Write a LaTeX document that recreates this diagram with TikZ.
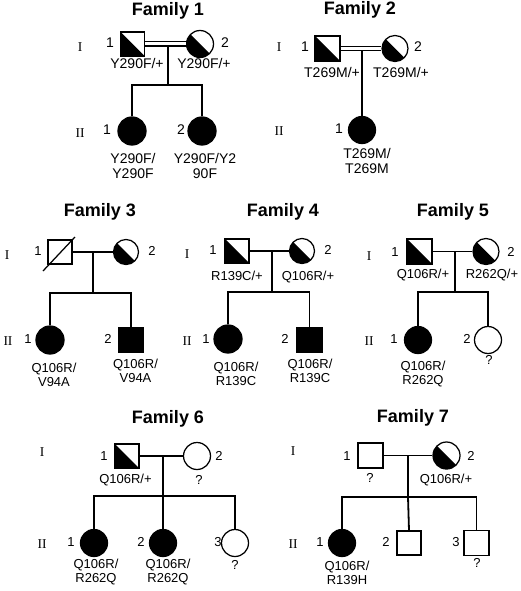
\documentclass[tikz,border=0pt]{standalone}
\usepackage{fontspec}
\setmainfont{Liberation Sans}
\newfontfamily\genfont{Liberation Serif}
\tikzset{
 sym/.style={draw, line width=1.25pt, inner sep=0pt, fill=white},
 sq/.style={sym, rectangle, minimum size=24pt},
 ci/.style={sym, circle, minimum size=27pt},
 aff/.style={fill=black},
 half/.style={path picture={\fill[black] (path picture bounding box.north west) -- (path picture bounding box.south west) -- (path picture bounding box.south east) -- cycle;}},
 ln/.style={line width=1.8pt},
 dbl/.style={line width=1.3pt, double, double distance=3pt},
 ttl/.style={font=\fontsize{18}{20}\selectfont\bfseries, inner sep=0pt, text height=0.72em, text depth=0pt},
 gen/.style={font=\genfont\fontsize{13.5}{15}\selectfont, inner sep=0pt, text height=0.66em, text depth=0pt},
 numA/.style={font=\fontsize{14}{16}\selectfont, inner sep=0pt, text height=0.72em, text depth=0pt},
 numB/.style={font=\fontsize{13}{14}\selectfont, inner sep=0pt, text height=0.72em, text depth=0pt},
 gtA/.style={font=\fontsize{14}{15}\selectfont, align=center, anchor=north, inner sep=0pt},
 gtB/.style={font=\fontsize{13}{14}\selectfont, align=center, anchor=north, inner sep=0pt},
}
\begin{document}
\begin{tikzpicture}[x=1pt, y=-1pt]
\useasboundingbox[fill=white] (0,0) rectangle (520,591);

% ---------------- Family 1
\node[ttl] (t1) at (168,12) {Family 1};
\node[gen] (g1a) at (80,48) {I};
\node[gen] (g1b) at (80,134) {II};
\node[sq,half] (f1a) at (132.5,44) {};
\node[ci,half] (f1b) at (200,44) {};
\node[ci,aff,minimum size=28pt] (f1c) at (132,131) {};
\node[ci,aff,minimum size=28pt] (f1d) at (202,131) {};
\coordinate (f1m) at (168,46);
\coordinate (f1s) at (168,85);
\draw[dbl] (f1a) -- (f1b);
\draw[ln] (f1m) -- (f1s);
\draw[ln] (f1c.north) |- (f1s) -| (f1d.north);
\node[numA] (n1a) at (110,44) {1};
\node[numA] (n1b) at (225,44) {2};
\node[numA] (n1c) at (107,131) {1};
\node[numA] (n1d) at (181,131) {2};
\node[gtA] (l1a) at (137,58) {Y290F/+};
\node[gtA] (l1b) at (204,58) {Y290F/+};
\node[gtA] (l1c) at (133,153) {Y290F/\\Y290F};
\node[gtA] (l1d) at (205,153) {Y290F/Y2\\90F};

% ---------------- Family 2
\node[ttl] (t2) at (360,11) {Family 2};
\node[gen] (g2a) at (279,48) {I};
\node[gen] (g2b) at (279,132) {II};
\node[sq,half,minimum size=25pt] (f2a) at (327.5,48.5) {};
\node[ci,half,minimum size=26pt] (f2b) at (395,48.5) {};
\node[ci,aff] (f2c) at (362,130) {};
\coordinate (f2m) at (362,50.5);
\draw[dbl] (f2a) -- (f2b);
\draw[ln] (f2m) -- (f2c.north);
\node[numA] (n2a) at (305,48) {1};
\node[numA] (n2b) at (418,48) {2};
\node[numA] (n2c) at (339,130) {1};
\node[gtA] (l2a) at (332,67) {T269M/+};
\node[gtA] (l2b) at (401,67) {T269M/+};
\node[gtA] (l2c) at (367,148) {T269M/\\T269M};

% ---------------- Family 3
\node[ttl] (t3) at (100,213) {Family 3};
\node[gen] (g3a) at (7,256) {I};
\node[gen] (g3b) at (8,342) {II};
\node[sq] (f3a) at (60,252) {};
\node[ci,half,minimum size=25pt] (f3b) at (126,252) {};
\node[ci,aff,minimum size=28pt] (f3c) at (50,340) {};
\node[sq,aff] (f3d) at (131,340) {};
\draw[line width=1.25pt] ([shift={(-17,19)}]f3a.center) -- ([shift={(15,-15)}]f3a.center);
\coordinate (f3m) at (93,252);
\coordinate (f3s) at (93,293);
\draw[ln] (f3a) -- (f3b);
\draw[ln] (f3m) -- (f3s);
\draw[ln] (f3c.north) |- (f3s) -| (f3d.north);
\node[numB] (n3a) at (38,252) {1};
\node[numB] (n3b) at (152,252) {2};
\node[numB] (n3c) at (28,340) {1};
\node[numB] (n3d) at (108,340) {2};
\node[gtB] (l3c) at (54,362.5) {Q106R/\\V94A};
\node[gtB] (l3d) at (135.5,358.5) {Q106R/\\V94A};

% ---------------- Family 4
\node[ttl] (t4) at (283,213) {Family 4};
\node[gen] (g4a) at (187,255) {I};
\node[gen] (g4b) at (187,342) {II};
\node[sq,half] (f4a) at (237,251) {};
\node[ci,half,minimum size=25pt] (f4b) at (302,251) {};
\node[ci,aff,minimum size=28pt] (f4c) at (228,339) {};
\node[sq,aff,minimum size=25pt] (f4d) at (309.5,340) {};
\coordinate (f4m) at (272,251);
\coordinate (f4s) at (272,292);
\draw[ln] (f4a) -- (f4b);
\draw[ln] (f4m) -- (f4s);
\draw[ln] (f4c.north) |- (f4s) -| (f4d.north);
\node[numB] (n4a) at (213,251) {1};
\node[numB] (n4b) at (328,251) {2};
\node[numB] (n4c) at (206,340) {1};
\node[numB] (n4d) at (285,340) {2};
\node[gtB] (l4a) at (237,270.5) {R139C/+};
\node[gtB] (l4b) at (308,270.5) {Q106R/+};
\node[gtB] (l4c) at (236,361.5) {Q106R/\\R139C};
\node[gtB] (l4d) at (310,358.5) {Q106R/\\R139C};

% ---------------- Family 5
\node[ttl] (t5) at (453,213) {Family 5};
\node[gen] (g5a) at (369,257) {I};
\node[gen] (g5b) at (369,342) {II};
\node[sq,half,minimum size=25pt] (f5a) at (419.5,251.5) {};
\node[ci,half,minimum size=26pt] (f5b) at (486,251.5) {};
\node[ci,aff] (f5c) at (418,340) {};
\node[ci] (f5d) at (488,340) {};
\coordinate (f5m) at (455,251.5);
\coordinate (f5s) at (455,292);
\draw[ln] (f5a) -- (f5b);
\draw[ln] (f5m) -- (f5s);
\draw[ln] (f5c.north) |- (f5s) -| (f5d.north);
\node[numB] (n5a) at (395,253) {1};
\node[numB] (n5b) at (511,253) {2};
\node[numB] (n5c) at (394,340) {1};
\node[numB] (n5d) at (467,340) {2};
\node[gtB] (l5a) at (423,268.5) {Q106R/+};
\node[gtB] (l5b) at (492,268.5) {R262Q/+};
\node[gtB] (l5c) at (423,360.5) {Q106R/\\R262Q};
\node[gtB] (l5d) at (489,355.5) {?};

% ---------------- Family 6
\node[ttl] (t6) at (168,420) {Family 6};
\node[gen] (g6a) at (42,453) {I};
\node[gen] (g6b) at (42,545) {II};
\node[sq,half] (f6a) at (127,456) {};
\node[ci] (f6b) at (197,456) {};
\node[ci,aff] (f6c) at (94,543) {};
\node[ci,aff] (f6d) at (163,543) {};
\node[ci] (f6e) at (235,543) {};
\coordinate (f6m) at (163,456);
\coordinate (f6s) at (163,496);
\draw[ln] (f6a) -- (f6b);
\draw[ln] (f6m) -- (f6s);
\draw[ln] (f6c.north) |- (f6s) -| (f6e.north);
\draw[ln] (f6s) -- (f6d.north);
\node[numB] (n6a) at (104,457) {1};
\node[numB] (n6b) at (219,457) {2};
\node[numB] (n6c) at (71,543) {1};
\node[numB] (n6d) at (141,543) {2};
\node[numB] (n6e) at (218,543) {3};
\node[gtB] (l6a) at (125.5,473.5) {Q106R/+};
\node[gtB] (l6b) at (199,475.5) {?};
\node[gtB] (l6c) at (96,558.5) {Q106R/\\R262Q};
\node[gtB] (l6d) at (168,558.5) {Q106R/\\R262Q};
\node[gtB] (l6e) at (235,560.5) {?};

% ---------------- Family 7
\node[ttl] (t7) at (413,419) {Family 7};
\node[gen] (g7a) at (293,452) {I};
\node[gen] (g7b) at (293,545) {II};
\node[sq,minimum size=25pt] (f7a) at (370.5,455.5) {};
\node[ci,half] (f7b) at (446.5,455.5) {};
\node[ci,aff] (f7c) at (342,543) {};
\node[sq] (f7d) at (409,543) {};
\node[sq,minimum size=25pt] (f7e) at (476.5,543) {};
\coordinate (f7m) at (408,455.5);
\coordinate (f7s) at (408,497);
\draw[ln] (f7a) -- (f7b);
\draw[ln] (f7m) -- (f7s);
\draw[ln] (f7c.north) |- (f7s) -| (f7e.north);
\draw[ln] (f7s) -- (f7d.north);
\node[numB] (n7a) at (347,457) {1};
\node[numB] (n7b) at (471,457) {2};
\node[numB] (n7c) at (320,543) {1};
\node[numB] (n7d) at (386,543) {2};
\node[numB] (n7e) at (456,543) {3};
\node[gtB] (l7a) at (370,473.5) {?};
\node[gtB] (l7b) at (446,473.5) {Q106R/+};
\node[gtB] (l7c) at (347,560.5) {Q106R/\\R139H};
\node[gtB] (l7e) at (477,558.5) {?};
\end{tikzpicture}
\end{document}
